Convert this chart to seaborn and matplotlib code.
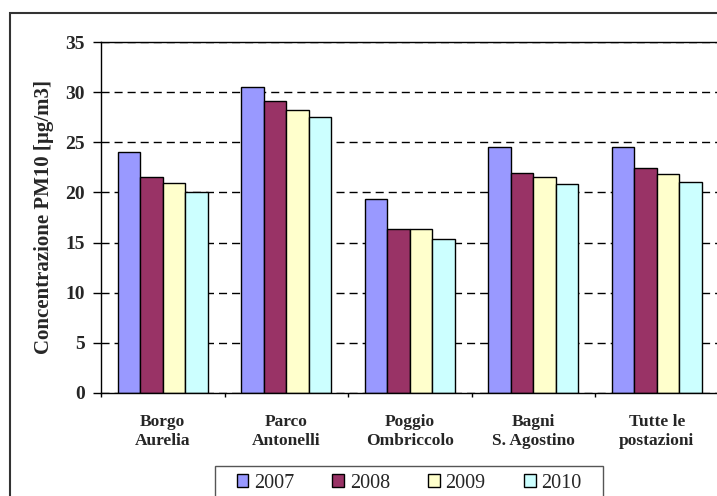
import matplotlib
matplotlib.use("Agg")
import matplotlib.pyplot as plt
from matplotlib.patches import Rectangle
from matplotlib.ticker import FixedLocator, NullFormatter
import seaborn as sns
import pandas as pd

# PM10 annual mean concentrations per monitoring station
stations = ["Borgo\nAurelia", "Parco\nAntonelli", "Poggio\nOmbriccolo",
            "Bagni\nS. Agostino", "Tutte le\npostazioni"]
years = ["2007", "2008", "2009", "2010"]
pm10_2007 = [24.0, 30.5, 19.3, 24.5, 24.5]
pm10_2008 = [21.5, 29.1, 16.4, 21.9, 22.4]
pm10_2009 = [20.9, 28.2, 16.4, 21.5, 21.8]
pm10_2010 = [20.0, 27.5, 15.4, 20.8, 21.0]
year_colors = ["#9999FF", "#993366", "#FFFFCC", "#CCFFFF"]
y_ticks = [0, 5, 10, 15, 20, 25, 30, 35]

series = [pm10_2007, pm10_2008, pm10_2009, pm10_2010]
df = pd.DataFrame(
    [(s, y, v) for y, vals in zip(years, series) for s, v in zip(stations, vals)],
    columns=["Postazione", "Anno", "PM10"],
)

sns.set_theme(style="white")
plt.rcParams["font.family"] = ["Liberation Serif", "DejaVu Serif"]
plt.rcParams["lines.scale_dashes"] = False

W, H = 717, 496
fig = plt.figure(figsize=(W / 100, H / 100), dpi=100)
fig.patch.set_facecolor("white")

left, right, top, bottom = 101, 718.5, 42.3, 392.7
ax = fig.add_axes([left / W, 1 - bottom / H, (right - left) / W, (bottom - top) / H])

sns.barplot(
    data=df, x="Postazione", y="PM10", hue="Anno", hue_order=years,
    palette=year_colors, width=0.725, gap=0, edgecolor="black", linewidth=1.0,
    saturation=1, errorbar=None, ax=ax, legend=True,
)

ax.set_xlim(-0.5, len(stations) - 0.5)
ax.set_ylim(0, 35)
ax.set_yticks(y_ticks)
ax.set_yticklabels([str(t) for t in y_ticks], fontsize=14, fontweight="bold")

# Category labels at the centres, tick marks at the boundaries
ax.xaxis.set_major_locator(FixedLocator([i - 0.5 for i in range(len(stations) + 1)]))
ax.xaxis.set_major_formatter(NullFormatter())
ax.xaxis.set_minor_locator(FixedLocator(list(range(len(stations)))))
ax.set_xticklabels(stations, minor=True, fontsize=12.5, fontweight="bold",
                   linespacing=1.25)
ax.tick_params(axis="x", which="major", direction="out", length=3, width=1,
               color="black", bottom=True)
ax.tick_params(axis="x", which="minor", length=0, pad=15)
ax.tick_params(axis="y", direction="out", length=6, width=1, color="black",
               left=True, pad=5.5)
ax.set_xlabel("")
ax.set_ylabel("Concentrazione PM10 [µg/m3]", fontsize=15, fontweight="bold")
ax.yaxis.set_label_coords(-0.076, 0.5)

ax.yaxis.grid(True, color="black", linewidth=1.0, linestyle=(0, (5.8, 3.6)))
ax.xaxis.grid(False)
ax.set_axisbelow(True)
for side in ["left", "bottom", "top"]:
    ax.spines[side].set_visible(True)
    ax.spines[side].set_color("black")
    ax.spines[side].set_linewidth(1.0)
ax.spines["right"].set_visible(False)

# Legend in one row below the chart
handles, labels = ax.get_legend_handles_labels()
ax.legend_.remove()
fig.legend(
    handles, labels, loc="center", bbox_to_anchor=(409 / W, 1 - 483.3 / H),
    ncol=4, frameon=False, fontsize=14.5, handlelength=0.58, handleheight=0.58,
    handletextpad=0.28, columnspacing=1.9, borderpad=0,
)
for h in handles:
    h.set_edgecolor("black")
    h.set_linewidth(1.0)

# Legend frame and outer chart border
fig.patches.append(Rectangle((215 / W, 1 - 505 / H), (603 - 215) / W, 39 / H,
                             transform=fig.transFigure, fill=False,
                             edgecolor="#555555", linewidth=1.0))
fig.patches.append(Rectangle((10 / W, -0.1), 1.1, 1.1 - 13 / H,
                             transform=fig.transFigure, fill=False,
                             edgecolor="#333333", linewidth=1.5))

fig.savefig("out.png", dpi=100)
